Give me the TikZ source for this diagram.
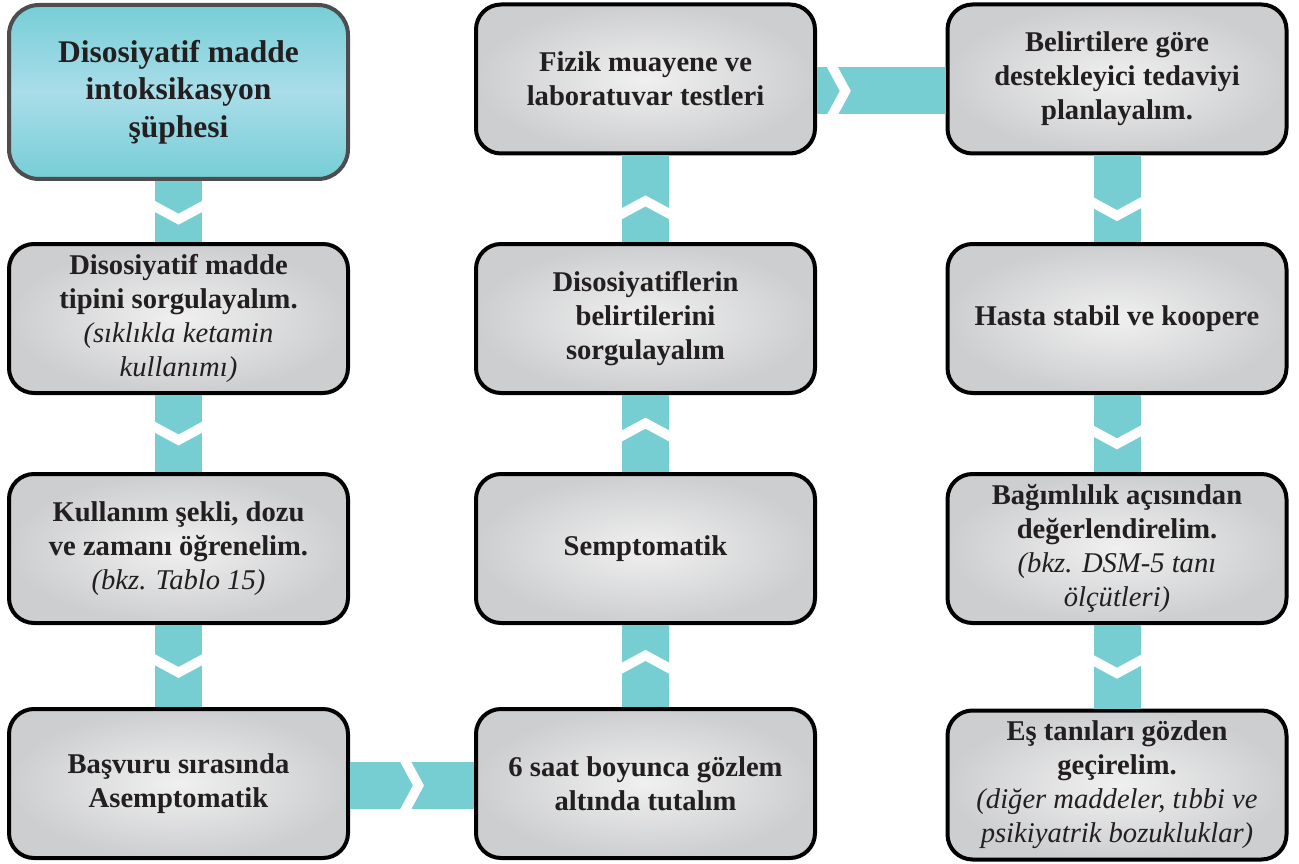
\documentclass[tikz,border=0pt]{standalone}
\usepackage{fontspec}
\setmainfont{Liberation Serif}
\usetikzlibrary{calc}
\definecolor{barteal}{HTML}{76CED3}
\definecolor{tealdark}{HTML}{76CED6}
\definecolor{teallight}{HTML}{A9DDE9}
\definecolor{boxedge}{HTML}{4D4D4F}
\definecolor{ink}{HTML}{231F20}
\definecolor{greyin}{HTML}{F0F0F0}
\definecolor{greyout}{HTML}{CDCED0}
\newcommand\paren[1]{{\mdseries\itshape #1}}
\tikzset{
  base/.style={rectangle, inner sep=0pt, align=center, text=ink,
    minimum width=339pt, line width=4pt},
  stepbox/.style={base, draw=black, rounded corners=25pt,
    shading=radial, inner color=greyin, outer color=greyout,
    minimum height=149pt,
    font=\fontsize{28.6}{34}\selectfont\bfseries},
  startbox/.style={base, draw=boxedge, rounded corners=30pt,
    top color=tealdark, bottom color=tealdark, middle color=teallight,
    minimum height=174pt,
    font=\fontsize{31.5}{37.5}\selectfont\bfseries},
  bar/.style={line width=47pt, draw=barteal},
  chev/.pic={\fill[white] (-24,-12) -- (0,1) -- (24,-12) -- (24,-1) -- (0,12) -- (-24,-1) -- cycle;}
}
\begin{document}
\begin{tikzpicture}[x=1pt,y=-1pt]
\useasboundingbox (0,0) rectangle (1299,864);

% column 1
\node[startbox] (s) at (178.5,92) {Disosiyatif madde\\intoksikasyon\\şüphesi};
\node[stepbox] (a2) at (178.5,318.5) {Disosiyatif madde\\tipini sorgulayalım.\\\paren{(sıklıkla ketamin}\\\paren{kullanımı)}};
\node[stepbox] (a3) at (178.5,548.5) {Kullanım şekli, dozu\\ve zamanı öğrenelim.\\\paren{(bkz. Tablo 15)}};
\node[stepbox] (a4) at (178.5,783.5) {Başvuru sırasında\\Asemptomatik};

% column 2
\node[stepbox] (b4) at (645.5,783.5) {6 saat boyunca gözlem\\altında tutalım};
\node[stepbox] (b3) at (645.5,548.5) {Semptomatik};
\node[stepbox] (b2) at (645.5,318.5) {Disosiyatiflerin\\belirtilerini\\sorgulayalım};
\node[stepbox] (b1) at (645.5,79) {Fizik muayene ve\\laboratuvar testleri};

% column 3
\node[stepbox] (c1) at (1117,79) {Belirtilere göre\\destekleyici tedaviyi\\planlayalım.};
\node[stepbox] (c2) at (1117,318.5) {Hasta stabil ve koopere};
\node[stepbox] (c3) at (1117,548.5) {Bağımlılık açısından\\değerlendirelim.\\\paren{(bkz. DSM-5 tanı}\\\paren{ölçütleri)}};
\node[stepbox] (c4) at (1117,785) {Eş tanıları gözden\\geçirelim.\\\paren{(diğer maddeler, tıbbi ve}\\\paren{psikiyatrik bozukluklar)}};

% connector bars
\draw[bar] (s.south) -- (a2.north) coordinate[pos=0.52] (m1);
\draw[bar] (a2.south) -- (a3.north) coordinate[pos=0.5] (m2);
\draw[bar] (a3.south) -- (a4.north) coordinate[pos=0.5] (m3);
\draw[bar] ([yshift=-2pt]a4.east) -- ([yshift=-2pt]b4.west) coordinate[pos=0.5] (m4);
\draw[bar] (b4.north) -- (b3.south) coordinate[pos=0.55] (m5);
\draw[bar] (b3.north) -- (b2.south) coordinate[pos=0.55] (m6);
\draw[bar] (b2.north) -- (b1.south) coordinate[pos=0.4] (m7);
\draw[bar] ([yshift=-12pt]b1.east) -- ([yshift=-12pt]c1.west) coordinate[pos=0.17] (m8);
\draw[bar] (c1.south) -- (c2.north) coordinate[pos=0.62] (m9);
\draw[bar] (c2.south) -- (c3.north) coordinate[pos=0.55] (m10);
\draw[bar] (c3.south) -- (c4.north) coordinate[pos=0.5] (m11);

% chevrons showing the direction of flow
\pic at (m1) {chev};
\pic at (m2) {chev};
\pic at (m3) {chev};
\pic[rotate=90] at (m4) {chev};
\pic[rotate=180] at (m5) {chev};
\pic[rotate=180] at (m6) {chev};
\pic[rotate=180] at (m7) {chev};
\pic[rotate=90] at (m8) {chev};
\pic at (m9) {chev};
\pic at (m10) {chev};
\pic at (m11) {chev};
\end{tikzpicture}
\end{document}
